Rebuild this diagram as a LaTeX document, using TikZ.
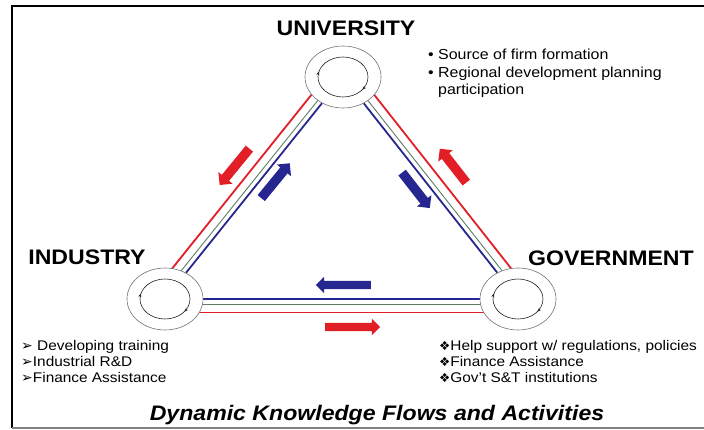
\documentclass[tikz,border=0pt]{standalone}
\usepackage{fontspec}
\setmainfont{Liberation Sans}[FakeStretch=1.1]
\newfontfamily\dingfont{DejaVu Sans}
\usetikzlibrary{shapes,arrows.meta,calc,backgrounds,decorations.markings}

\definecolor{flowred}{RGB}{226,30,38}
\definecolor{flowblue}{RGB}{38,38,145}
\definecolor{linegreen}{RGB}{95,125,100}

\newcommand{\arrowmark}{{\dingfont\fontsize{14}{14}\selectfont ➢}}
\newcommand{\petalmark}{{\dingfont\fontsize{12.5}{12.5}\selectfont ❖}}

\tikzstyle{ring} = [draw=black!55, ellipse, fill=white, minimum width=76pt, minimum height=62pt, line width=0.6pt]
\tikzstyle{inner_loop} = [draw=black!85, line width=0.6pt, postaction={decorate}, decoration={markings, mark=at position 0.46 with {\arrowreversed{Stealth[length=4pt]}}, mark=at position 0.9 with {\arrowreversed{Stealth[length=4pt]}}}]
\tikzstyle{big_label} = [font=\fontsize{21}{25}\selectfont\bfseries]
\tikzstyle{notes} = [align=left, anchor=north west, inner sep=0pt, font=\fontsize{14}{16}\selectfont]
\tikzstyle{red_line} = [draw=flowred, line width=1.8pt]
\tikzstyle{blue_line} = [draw=flowblue, line width=1.8pt]
\tikzstyle{green_line} = [draw=linegreen, line width=0.9pt]
\tikzstyle{flow} = [single arrow, inner sep=4.5pt, single arrow head extend=4.5pt, minimum height=46pt]
\tikzstyle{flow_red} = [flow, fill=flowred]
\tikzstyle{flow_blue} = [flow, fill=flowblue]

\begin{document}
\begin{tikzpicture}[x=1pt, y=1pt]
	\useasboundingbox (0,0) rectangle (704,430);
	
	% frame
	\draw [line width=1.6pt] (704,424) -- (12,424) -- (12,2);
	\draw [line width=1.2pt, black!50] (12,2) -- (704,2);
	
	% the three rings
	\node [ring] (uni) at (343,353) {};
	\node [ring] (ind) at (165,131) {};
	\node [ring] (gov) at (518,131) {};
	\draw [inner_loop] (uni) ellipse [x radius=25pt, y radius=20pt];
	\draw [inner_loop] (ind) ellipse [x radius=25pt, y radius=20pt];
	\draw [inner_loop] (gov) ellipse [x radius=25pt, y radius=20pt];
	
	% links, red outside, blue inside
	\begin{scope}[on background layer]
		\draw [red_line] ($(ind)!13.5pt!90:(uni)$) -- ($(uni)!13.5pt!-90:(ind)$);
		\draw [green_line] ($(ind)!5pt!90:(uni)$) -- ($(uni)!5pt!-90:(ind)$);
		\draw [blue_line] (ind) -- (uni);
		
		\draw [red_line] ($(uni)!13.5pt!90:(gov)$) -- ($(gov)!13.5pt!-90:(uni)$);
		\draw [green_line] ($(uni)!5pt!90:(gov)$) -- ($(gov)!5pt!-90:(uni)$);
		\draw [blue_line] (uni) -- (gov);
		
		\draw [red_line] ($(gov)!13.5pt!90:(ind)$) -- ($(ind)!13.5pt!-90:(gov)$);
		\draw [green_line] ($(gov)!5pt!90:(ind)$) -- ($(ind)!5pt!-90:(gov)$);
		\draw [blue_line] (gov) -- (ind);
	\end{scope}
	
	% flow arrows
	\node [flow_red, rotate=230.7, minimum height=47pt] (ind_in) at (236,265) {};
	\node [flow_blue, rotate=50.7, minimum height=45pt] (uni_in) at (274,247.5) {};
	\node [flow_blue, rotate=-52, minimum height=45pt] (gov_in) at (414.5,241.5) {};
	\node [flow_red, rotate=128, minimum height=43pt] (uni_back) at (454.5,262.5) {};
	\node [flow_blue, rotate=180, minimum height=55pt, inner sep=4pt, single arrow head extend=4pt] (ind_back) at (345.5,145) {};
	\node [flow_red, minimum height=55pt, inner sep=4pt, single arrow head extend=4pt] (gov_back) at (350.5,103) {};
	
	% labels
	\node [big_label] (uni_label) at (346,402) {UNIVERSITY};
	\node [big_label] (ind_label) at (87,173) {INDUSTRY};
	\node [big_label] (gov_label) at (611,172) {GOVERNMENT};
	
	\node [notes, font=\fontsize{14.5}{17.5}\selectfont] (uni_notes) at (428,381) {• Source of firm formation\\• Regional development planning\\\phantom{• }participation};
	\node [notes] (ind_notes) at (21,90) {\arrowmark\ Developing training\\\arrowmark Industrial R\&D\\\arrowmark Finance Assistance};
	\node [notes] (gov_notes) at (439,90) {\petalmark Help support w/ regulations, policies\\\petalmark Finance Assistance\\\petalmark Gov't S\&T institutions};
	
	\node [font=\fontsize{21}{25}\selectfont\bfseries\itshape] (caption) at (377,15) {Dynamic Knowledge Flows and Activities};
\end{tikzpicture}
\end{document}
